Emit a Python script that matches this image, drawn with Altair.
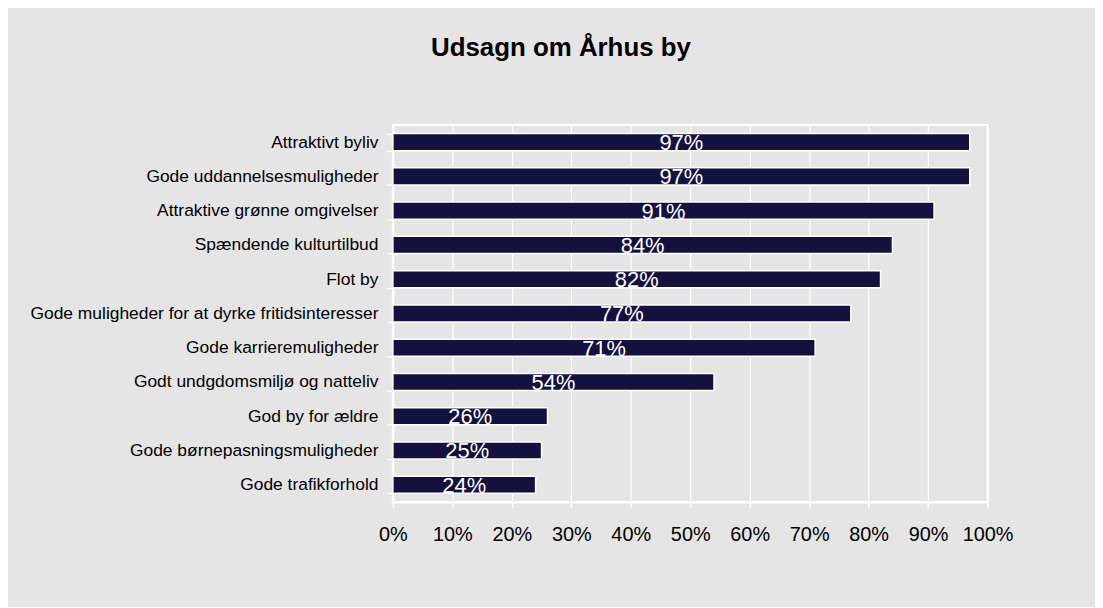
import altair as alt
import pandas as pd

categories = [
    "Attraktivt byliv",
    "Gode uddannelsesmuligheder",
    "Attraktive grønne omgivelser",
    "Spændende kulturtilbud",
    "Flot by",
    "Gode muligheder for at dyrke fritidsinteresser",
    "Gode karrieremuligheder",
    "Godt undgdomsmiljø og natteliv",
    "God by for ældre",
    "Gode børnepasningsmuligheder",
    "Gode trafikforhold",
]
values = [0.97, 0.97, 0.91, 0.84, 0.82, 0.77, 0.71, 0.54, 0.26, 0.25, 0.24]
x_ticks = [0, 0.1, 0.2, 0.3, 0.4, 0.5, 0.6, 0.7, 0.8, 0.9, 1.0]

df = pd.DataFrame({"cat": categories, "val": values})
df["mid"] = df["val"] / 2

FONT = "Liberation Sans"
BG = "#e5e5e5"
BAR = "#14113f"

y_enc = alt.Y(
    "cat:N",
    sort=categories,
    title=None,
    scale=alt.Scale(paddingInner=0.5, paddingOuter=0.25),
    axis=alt.Axis(
        labelFont=FONT,
        labelFontSize=17.5,
        labelColor="#000000",
        labelPadding=9,
        tickColor="white",
        tickSize=6,
        tickWidth=1.5,
        tickBand="extent",
        domainColor="white",
        domainWidth=2,
        grid=False,
        labelLimit=500,
    ),
)

x_scale = alt.Scale(domain=[0, 1], nice=False)

bars = alt.Chart(df).mark_bar(color=BAR, stroke="white", strokeWidth=1.5).encode(
    x=alt.X(
        "val:Q",
        scale=x_scale,
        title=None,
        axis=alt.Axis(
            values=x_ticks,
            format=".0%",
            labelFont=FONT,
            labelFontSize=20,
            labelColor="#000000",
            labelPadding=17,
            labelOverlap=False,
            labelFlush=False,
            tickColor="white",
            tickSize=6,
            tickWidth=1.5,
            domainColor="white",
            domainWidth=2,
            grid=True,
            gridColor="white",
            gridWidth=1.2,
            gridOpacity=1,
        ),
    ),
    y=y_enc,
)

labels = alt.Chart(df).mark_text(
    color="white", font=FONT, fontSize=22, align="center", baseline="middle", dy=1
).encode(
    x=alt.X("mid:Q", scale=x_scale),
    y=alt.Y("cat:N", sort=categories),
    text=alt.Text("val:Q", format=".0%"),
)

chart = (
    alt.layer(bars, labels)
    .properties(
        width=598,
        height=379,
        autosize=alt.AutoSizeParams(type="none"),
        padding={"left": 387, "top": 116, "right": 108, "bottom": 104},
        background=BG,
        title=alt.TitleParams(
            "Udsagn om Århus by",
            font=FONT,
            fontSize=26,
            fontWeight="bold",
            color="#000000",
            anchor="middle",
            frame="group",
            dx=-130,
            offset=34,
            baseline="alphabetic",
        ),
    )
    .configure_view(stroke="white", strokeWidth=2, fill=BG)
)

chart.save("out.html", embed_options={"renderer": "svg", "actions": False})
